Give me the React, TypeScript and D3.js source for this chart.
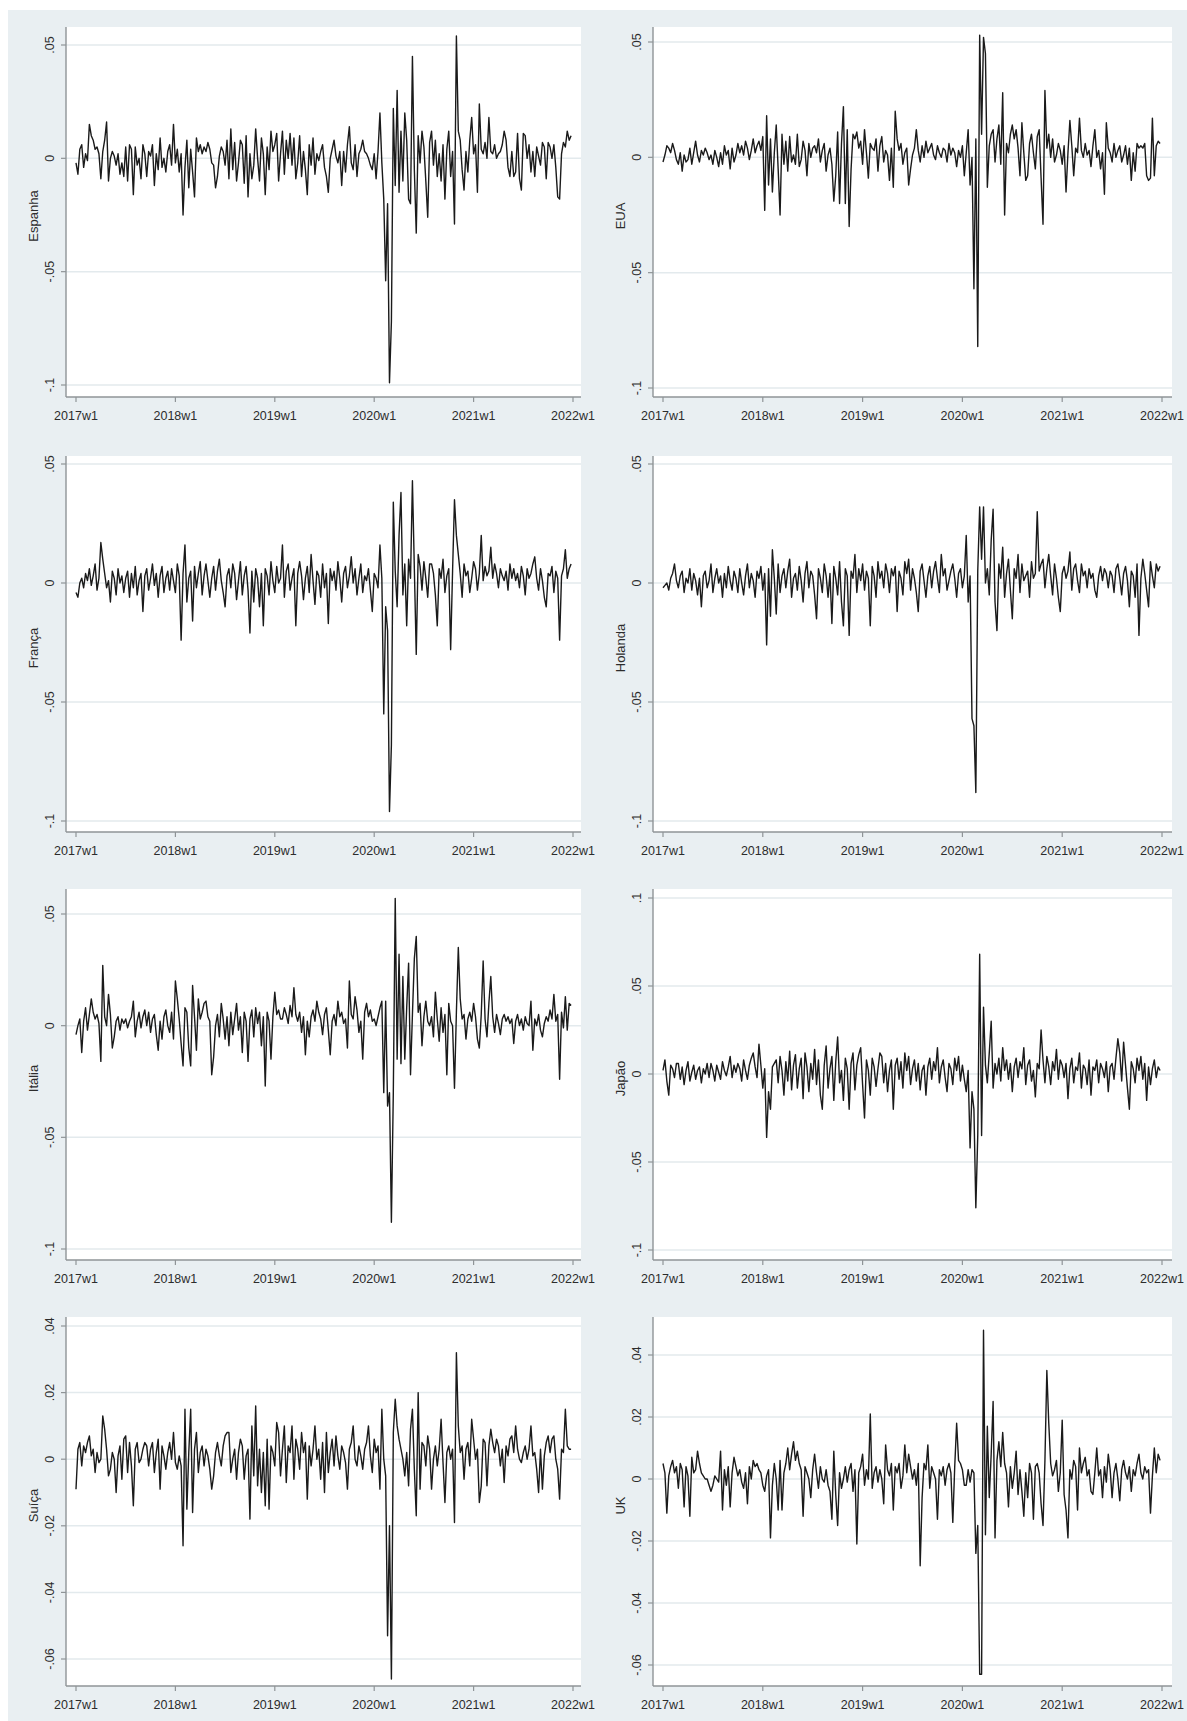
import React from "react";
import * as d3 from "d3";

// ---------- data (weekly returns, in thousandths: value = n / 1000) ----------
const UNIT = 0.001;
const xTickWeeks = [0, 52, 104, 156, 208, 260];
const xTickLabels = ["2017w1", "2018w1", "2019w1", "2020w1", "2021w1", "2022w1"];

const espanha = [
  -2, -7, 4, 6, -4, 2, -1, 15, 10, 8,
  4, 5, 2, -9, 3, 8, 16, -10, 0, 3,
  1, -3, 2, -7, -2, -8, 5, -10, 6, 4,
  -16, 5, -3, 0, -9, 6, 2, -8, 3, 1,
  6, -12, 2, -5, 9, -4, 0, -6, 3, 6,
  -3, 15, -2, 4, -6, 2, -25, -4, 8, -13,
  4, -6, -17, 9, 3, 6, 2, 5, 3, 7,
  4, -2, -3, -13, -8, 1, 5, 3, -3, 8,
  -9, 13, -5, 7, -10, -2, 8, 6, -11, 10,
  -17, 2, -9, -3, 13, 0, -10, 9, 2, -16,
  5, -5, 12, 3, 6, 11, -10, 2, 12, -7,
  8, 0, 11, -3, 9, -9, -2, 10, -8, 3,
  -5, -16, 6, -3, 9, -7, 2, -1, 3, 6,
  -4, -8, -15, 0, 4, 8, 1, -2, 3, -12,
  3, -6, 6, 14, -2, -5, 6, -8, 2, 4,
  8, 3, 2, 0, -3, -5, 2, -9, 3, 20,
  -2, -18, -54, -20, -99, -72, 22, -12, 30, -15,
  12, -10, 20, 8, -18, -20, 45, -5, -33, 10,
  -2, 12, 5, -10, -26, 7, 12, -3, 8, -8,
  2, -10, 6, -18, 4, 12, -8, 3, -29, 54,
  12, 8, -5, -14, 3, -6, 8, 18, 2, 6,
  -15, 24, 4, 2, 7, 0, 18, 3, 2, 6,
  0, 2, 3, 6, 12, 8, -4, -8, 3, -8,
  -6, 11, -9, -14, 11, 10, 0, 6, -6, 3,
  -8, 5, 1, -3, 7, 5, -9, 7, 5, 0,
  6, -4, -17, -18, 2, 7, 5, 12, 8, 10,
];

const eua = [
  -2, 1, 5, 4, 2, 6, 3, -1, -3, 2,
  -6, 1, -2, -1, 4, -3, 2, 7, 1, -2,
  3, 1, 4, 2, -1, 1, -3, 3, 0, -4,
  2, -3, 5, 1, 3, -5, 4, -2, 1, 6,
  2, 5, 1, 7, 4, -1, 3, 8, 2, 5,
  7, 3, 9, -23, 18, -12, 8, -15, 2, 14,
  -5, -25, 10, -3, 7, -6, 9, -2, 1, -3,
  10, -4, -1, 7, 3, -8, 6, 0, 4, 5,
  2, 8, -2, 3, 6, -6, 1, 4, -3, -19,
  -8, 11, -20, 6, 22, -20, 12, -30, -5, 10,
  8, 11, 4, 7, -3, 12, 2, -9, 6, 4,
  3, 8, -6, 5, 9, -2, 3, 1, -10, 4,
  -13, 20, 8, 3, 6, -3, 2, 4, -12, -5,
  1, 4, 12, 3, -2, 5, 0, 7, 2, 4,
  6, 1, -1, 5, 2, 0, 4, 3, -2, 6,
  1, 4, 2, -4, 3, 0, 5, -8, 2, 12,
  -12, 0, -57, 8, -82, 53, 10, 52, 45, -13,
  5, 10, 12, -2, 8, 14, -3, 28, -25, 6,
  2, 10, 14, 8, 12, 4, -8, 15, 2, -10,
  -8, 6, 10, 2, -5, 9, 12, -9, -29, 29,
  4, 10, 0, 8, -2, 1, 6, 3, -3, 5,
  -15, 2, 16, 5, -8, 4, 2, 17, 3, 0,
  6, 1, 3, -4, 5, 12, 0, 3, -5, 2,
  -16, 15, 4, 2, -2, 6, 0, 3, 5, -2,
  1, 5, -3, 4, -10, 2, -6, 6, 4, 5,
  4, 6, -8, -10, -9, 17, -8, 5, 7, 6,
];

const franca = [
  -4, -6, 0, 2, -2, 4, 1, 6, -1, 3,
  8, -3, 2, 17, 10, 4, -2, 1, -8, 5,
  2, -5, 6, 0, 3, -4, 2, 5, -6, 4,
  -2, 7, -5, 1, 4, -12, 3, 6, -3, 2,
  8, -1, 4, -6, 3, 7, -4, 2, 5, -3,
  6, 1, -4, 8, 3, -24, 4, 16, -8, 2,
  5, -16, 7, -2, 4, 9, -5, 3, 8, 1,
  -6, 2, 7, -3, 5, 10, 1, -4, -10, 3,
  6, -2, 8, 4, -7, 1, 9, -5, 3, 7,
  -3, -21, 5, -8, 6, 2, -10, 4, -18, 6,
  3, -5, 9, 1, -4, 7, 0, 2, 16, -6,
  5, 8, -3, 2, 6, -18, 4, 9, 3, -7,
  2, 7, -4, 12, 1, -9, 5, 3, -6, 8,
  -2, 4, -17, 6, 1, 5, -3, 9, 2, -8,
  4, 7, -2, 3, 11, 0, 6, -5, 2, 8,
  -4, 3, 1, 6, -3, -12, 4, 2, -2, 16,
  2, -55, -10, -20, -96, -68, 34, 5, -10, 20,
  38, -5, 8, -18, 10, 2, 43, 6, -30, 12,
  7, -3, 9, 2, -6, 8, 8, 4, -5, -18,
  6, 2, 10, -4, 3, 6, -28, 5, 35, 20,
  12, 4, -6, 8, 3, 5, -4, 2, 9, 6,
  -3, 4, 20, 1, 7, 3, 5, 15, 2, 8,
  4, -2, 6, 3, 1, 5, -3, 8, 2, 6,
  1, 4, -2, 7, 3, -5, 6, 2, 4, 8,
  11, 2, -3, 6, 1, -6, -10, 4, 3, 7,
  -4, 5, 2, -24, 3, 6, 14, 2, 6, 8,
];

const holanda = [
  -2, -1, 0, -3, 2, 4, 8, 1, -2, 3,
  5, -4, 2, 0, 6, -3, 4, 1, -5, 2,
  -10, 3, 5, -2, 1, 8, -4, 2, 6, 0,
  3, -6, 4, -2, 7, 1, -3, 5, 2, -4,
  6, 0, -5, 3, 8, -2, 4, 1, -6, 5,
  2, 7, -3, 4, -26, 6, -14, 14, 2, -13,
  8, -4, 3, 6, -2, 5, 10, -6, 2, 4,
  -3, 7, 1, -8, 4, 9, -2, 5, 3, -5,
  -15, 6, 2, -4, 8, 3, -6, 4, -17, 7,
  2, -5, 9, -8, -18, 6, 3, -22, 5, 2,
  12, -4, 6, 1, 8, -3, 5, 2, -18, 7,
  3, -6, 9, 2, 5, -2, 8, 4, -4, 6,
  3, 7, -12, 5, 2, -5, 9, 4, 10, -3,
  6, 2, -4, -12, 5, 8, 1, -6, 3, 7,
  -2, 5, 9, 2, -4, 12, 3, 6, -3, 1,
  5, 8, 2, -6, 4, 6, -2, 3, 20, -8,
  3, -57, -60, -88, 5, 32, 10, 32, 0, 6,
  -5, 18, 31, -8, -20, 8, 2, 15, -6, 4,
  10, -3, -15, 6, 2, 12, -4, 8, 1, 3,
  5, -6, 9, 2, 4, 30, 5, 8, 10, -2,
  6, 12, 3, -5, 8, 2, -6, -12, 4, 7,
  2, 5, 13, -3, 6, 8, 1, -4, 8, 3,
  5, -2, 6, 2, 4, -3, -6, 3, 7, 1,
  6, 4, -2, 5, 3, -4, 6, 8, 2, -5,
  4, 7, 1, -10, 5, 3, -6, 8, -22, 2,
  10, 4, -3, -10, 9, 3, -2, 8, 5, 7,
];

const italia = [
  -4, 0, 3, -12, 2, 8, -2, 5, 12, 6,
  3, 5, 1, -16, 27, 4, 0, 14, 5, -10,
  -5, 2, 4, -2, 3, 1, 3, -1, 2, 4,
  11, -5, 2, 6, -1, 4, 7, 0, 6, -3,
  3, 5, -4, -11, 2, -6, 4, 7, 0, -3,
  6, -6, 20, 12, 3, -8, -18, 8, 6, -10,
  -18, 18, 4, -11, 12, 3, 6, 10, 11, 4,
  2, -22, -14, 0, 5, -5, 10, 3, -6, 4,
  -9, 6, -4, 3, 10, -2, 4, -12, 6, 2,
  -16, 3, 7, -5, 8, 1, 6, -9, 4, -27,
  6, 2, -15, 4, 15, 5, 7, 3, 3, 8,
  5, 1, 9, 4, 17, 5, 2, 6, -3, 4,
  -13, 2, -5, 4, 7, 2, 11, 6, 3, -4,
  5, 8, -2, -13, 2, 5, 0, 11, 4, 6,
  1, 3, -10, 20, 5, 3, 13, 7, -3, 2,
  -15, 6, 10, 4, 7, 2, 3, 0, 4, 8,
  11, -30, 11, -36, -30, -88, -30, 57, -15, 32,
  -17, 22, -15, 8, 28, -22, 5, 30, 40, 6,
  10, -9, 4, 11, 2, 0, 4, -5, 15, 3,
  -7, 8, -3, 5, -22, 10, 2, 0, -28, 6,
  35, 12, 3, 5, -6, 3, 6, 2, 10, 4,
  -6, -10, 5, 29, 3, -5, 10, 22, 4, -3,
  5, 1, -4, 3, 5, 2, 4, 1, 3, -8,
  2, 5, 0, 3, -2, 4, 1, 0, 11, -11,
  3, 0, 5, -2, -5, 1, 4, 2, 7, 3,
  14, 2, 5, -24, 6, -1, 13, -2, 10, 9,
];

const japao = [
  2, 8, -4, -12, 5, 3, -2, 6, 6, -3,
  4, -6, 2, 7, -4, 1, 5, -3, 2, 4,
  -5, 3, 0, 6, -2, 6, 2, -4, 5, 1,
  -3, 7, 2, -1, 4, 10, -2, 5, 1, 6,
  3, -4, 8, 2, -3, 5, 9, 12, 4, -2,
  17, 5, -8, 3, -36, -10, -20, 4, 6, 8,
  -5, 10, 2, -12, 7, -4, 13, -9, 5, 11,
  -8, 3, 9, -14, 12, 4, -10, 6, -3, 14,
  -6, 8, -12, -20, 5, 16, -8, 3, 10, -15,
  7, 21, -5, 2, -15, 9, 3, -20, 6, 12,
  -9, 5, 11, 15, -6, -25, 8, 2, -12, 9,
  4, -7, 3, 12, 10, -5, 6, -10, 2, 8,
  -20, 5, 9, -3, 7, -8, 12, 2, 10, -6,
  3, 8, -4, 6, -9, 2, 5, -12, 4, 9,
  -3, 7, 2, 15, -5, 4, 8, -2, -10, 6,
  3, -6, 9, 2, 10, -4, 5, -3, -10, 2,
  -42, -10, -20, -76, -35, 68, -35, 38, 5, -5,
  12, 30, -8, 6, 0, 9, -4, 15, 2, 8,
  -3, 6, -10, 4, 9, -2, 7, 3, 15, -6,
  5, 8, -4, 2, -13, 6, 3, 25, 8, -5,
  10, 4, -6, 7, 2, 14, -3, 8, 5, -2,
  6, -14, 3, 9, -5, 4, 2, 12, -8, 5,
  3, -6, 8, -12, 4, 2, 8, -5, 6, 3,
  -2, 7, -10, 4, 6, -3, 9, 20, 12, -4,
  18, 5, -8, -20, 7, 3, -5, 9, 2, 10,
  -3, 6, -15, 4, -6, 3, 8, -2, 4, 2,
];

const suica = [
  -9, 3, 5, -2, 4, 2, 5, 7, 1, 3,
  -4, 2, -1, 0, 13, 9, 3, -5, -3, 2,
  0, -10, 1, 4, -6, 6, 7, -4, 5, -2,
  -14, 3, 5, -1, 0, 3, 5, 4, -2, 3,
  5, -4, 2, 6, -9, 4, 1, -3, 2, 5,
  0, 8, -1, -3, 1, -2, -26, 15, -15, 2,
  15, -16, 3, 8, -4, 2, 4, -2, 3, 1,
  -3, -9, -5, 2, 5, 1, -2, 4, 7, 8,
  8, -4, 0, 3, -6, 2, 6, 4, -6, 1,
  3, -18, 10, -5, 16, -8, 3, -10, 2, -14,
  6, -15, 4, 2, -2, 11, 8, -5, 3, 10,
  -7, 4, 2, 10, -6, 6, 3, -3, 8, 2,
  5, -12, 4, -2, 3, 10, 0, 3, -6, 5,
  -10, 8, -4, 2, 6, -2, 7, 1, -3, 4,
  2, -1, -9, 3, 5, 10, 0, -2, 4, 1,
  -3, 3, 5, 10, 1, -4, 6, 2, 4, -9,
  15, 0, -5, -53, -20, -66, 8, 18, 10, 6,
  3, 0, -5, 2, -8, 9, 15, -3, -17, 20,
  -9, 5, 4, -2, 7, 3, -9, 0, 4, -2,
  3, 12, -1, -13, 2, 4, 0, 3, -19, 32,
  10, 2, 4, -6, 3, 5, -2, 12, 6, 0,
  3, -13, -8, 6, 5, -8, 4, 9, 5, 2,
  6, 4, -2, 3, -7, 4, 1, 6, 7, 2,
  10, 3, 0, -1, 2, 4, 0, 3, 10, 1,
  2, -3, -10, 3, -9, 1, 5, 7, 2, 6,
  7, 0, -3, -12, 3, 2, 15, 4, 3, 3,
];

const uk = [
  5, 2, -11, 1, 4, 6, 2, 4, -3, 5,
  3, -9, 4, 1, -12, 7, 2, 3, 9, 5,
  2, 1, 0, 0, -2, -4, -2, 1, 0, -1,
  9, -10, 3, -2, 4, -9, 2, 7, 4, 1,
  3, -1, -3, 2, -8, 4, 0, 6, 4, 5,
  3, 2, -2, -4, 1, 3, -19, -2, 5, 0,
  -10, 6, -10, 2, 5, 10, 3, 8, 12, 6,
  9, 5, 3, -12, 4, 2, 0, -6, 3, 8,
  2, -3, 4, 0, -1, 3, -2, -4, -13, 9,
  -5, -15, 2, -3, 0, 4, -1, 3, 5, -4,
  3, -21, 2, 4, 8, -2, 3, 0, 21, -3,
  2, 4, -1, 3, 0, -8, 11, 3, 1, 5,
  -10, 4, 2, 5, -3, 1, 11, 2, 8, 4,
  0, 3, -2, 5, -28, -6, 5, 3, 11, -3,
  4, 2, 0, -13, 3, 1, 4, -2, 3, 5,
  2, -14, 4, 18, 6, 5, 3, -2, -2, 3,
  -1, 3, 2, -24, -15, -63, -63, 48, -18, 17,
  -6, 8, 25, -19, 6, 12, 4, 15, 5, 2,
  -9, 4, -3, 2, 9, -5, 3, -4, -12, 2,
  -6, 5, 2, -13, 4, 5, 2, -8, -15, 6,
  35, 18, 5, 1, 3, 6, -4, 2, 19, -5,
  -10, -19, 3, 0, 6, 4, -10, 10, 2, 5,
  7, 1, 3, -4, -5, 2, 10, 1, 3, -6,
  4, -1, 8, 3, -6, 2, 5, 0, -7, 3,
  6, 2, 0, 4, -4, 3, 1, 5, 8, 2,
  0, 4, 2, 3, -11, 1, 10, 2, 8, 6,
];

const ticks05 = [0.05, 0, -0.05, -0.1];
const labels05 = [".05", "0", "-.05", "-.1"];
const ticksJp = [0.1, 0.05, 0, -0.05, -0.1];
const labelsJp = [".1", ".05", "0", "-.05", "-.1"];
const ticks02 = [0.04, 0.02, 0, -0.02, -0.04, -0.06];
const labels02 = [".04", ".02", "0", "-.02", "-.04", "-.06"];

// ---------- layout ----------
const W = 1187;
const H = 1721;
const COLS = [
  { axisX: 66, x0: 76, x1: 573, right: 581 },
  { axisX: 653, x0: 663, x1: 1162, right: 1172 },
];
const ROWS = [
  { top: 27, axis: 397 },
  { top: 456, axis: 832 },
  { top: 889, axis: 1260 },
  { top: 1317, axis: 1686 },
];

const PANELS = [
  { name: "Espanha", data: espanha, ticks: ticks05, labels: labels05, col: 0, row: 0, pxTop: 45, pxBot: 385 },
  { name: "EUA", data: eua, ticks: ticks05, labels: labels05, col: 1, row: 0, pxTop: 42, pxBot: 388 },
  { name: "França", data: franca, ticks: ticks05, labels: labels05, col: 0, row: 1, pxTop: 464, pxBot: 821 },
  { name: "Holanda", data: holanda, ticks: ticks05, labels: labels05, col: 1, row: 1, pxTop: 464, pxBot: 821 },
  { name: "Itália", data: italia, ticks: ticks05, labels: labels05, col: 0, row: 2, pxTop: 914, pxBot: 1249 },
  { name: "Japão", data: japao, ticks: ticksJp, labels: labelsJp, col: 1, row: 2, pxTop: 898, pxBot: 1250 },
  { name: "Suíça", data: suica, ticks: ticks02, labels: labels02, col: 0, row: 3, pxTop: 1326, pxBot: 1659 },
  { name: "UK", data: uk, ticks: ticks02, labels: labels02, col: 1, row: 3, pxTop: 1355, pxBot: 1665 },
];

const BG = "#e9eff2";
const GRID = "#e3eaed";
const AXIS = "#8f9497";
const TEXT = "#2c2c2c";
const LINE = "#1a1a1a";
const FONT = "'Liberation Sans', Arial, Helvetica, sans-serif";

function Panel({ p }: { p: (typeof PANELS)[number] }) {
  const col = COLS[p.col];
  const row = ROWS[p.row];
  const x = d3
    .scaleLinear()
    .domain([xTickWeeks[0], xTickWeeks[xTickWeeks.length - 1]])
    .range([col.x0, col.x1]);
  const y = d3
    .scaleLinear()
    .domain([d3.min(p.ticks) as number, d3.max(p.ticks) as number])
    .range([p.pxBot, p.pxTop]);
  const line = d3
    .line<number>()
    .x((_, i) => x(i))
    .y((v) => y(v * UNIT));
  const midY = (row.top + row.axis) / 2 + 4;

  return (
    <g>
      <rect x={col.axisX} y={row.top} width={col.right - col.axisX} height={row.axis - row.top} fill="#ffffff" />
      {p.ticks.map((t) => (
        <line key={"g" + t} x1={col.axisX} x2={col.right} y1={y(t)} y2={y(t)} stroke={GRID} strokeWidth={1.5} />
      ))}
      <path d={line(p.data) || ""} fill="none" stroke={LINE} strokeWidth={1.4} strokeLinejoin="round" />
      {/* y axis */}
      <line x1={col.axisX} x2={col.axisX} y1={row.top} y2={row.axis} stroke={AXIS} strokeWidth={1.4} />
      {p.ticks.map((t, i) => (
        <g key={"yt" + t}>
          <line x1={col.axisX - 5} x2={col.axisX} y1={y(t)} y2={y(t)} stroke={AXIS} strokeWidth={1.2} />
          <text
            transform={`translate(${col.axisX - 12},${y(t)}) rotate(-90)`}
            textAnchor="middle"
            fontSize={12.5}
            fontFamily={FONT}
            fill={TEXT}
          >
            {p.labels[i]}
          </text>
        </g>
      ))}
      <text
        transform={`translate(${col.axisX - 28},${midY}) rotate(-90)`}
        textAnchor="middle"
        fontSize={13}
        fontFamily={FONT}
        fill={TEXT}
      >
        {p.name}
      </text>
      {/* x axis */}
      <line x1={col.axisX} x2={col.right} y1={row.axis} y2={row.axis} stroke={AXIS} strokeWidth={1.4} />
      {xTickWeeks.map((w, i) => (
        <g key={"xt" + w}>
          <line x1={x(w)} x2={x(w)} y1={row.axis} y2={row.axis + 5} stroke={AXIS} strokeWidth={1.2} />
          <text x={x(w)} y={row.axis + 23} textAnchor="middle" fontSize={12.5} fontFamily={FONT} fill={TEXT}>
            {xTickLabels[i]}
          </text>
        </g>
      ))}
    </g>
  );
}

export default function App() {
  return (
    <svg
      width={W}
      height={H}
      viewBox={`0 0 ${W} ${H}`}
      style={{ position: "absolute", left: 0, top: 0, display: "block" }}
    >
      <rect x={0} y={0} width={W} height={H} fill="#ffffff" />
      <rect x={8} y={10} width={W - 8} height={H - 10} fill={BG} />
      {PANELS.map((p) => (
        <Panel key={p.name} p={p} />
      ))}
    </svg>
  );
}
